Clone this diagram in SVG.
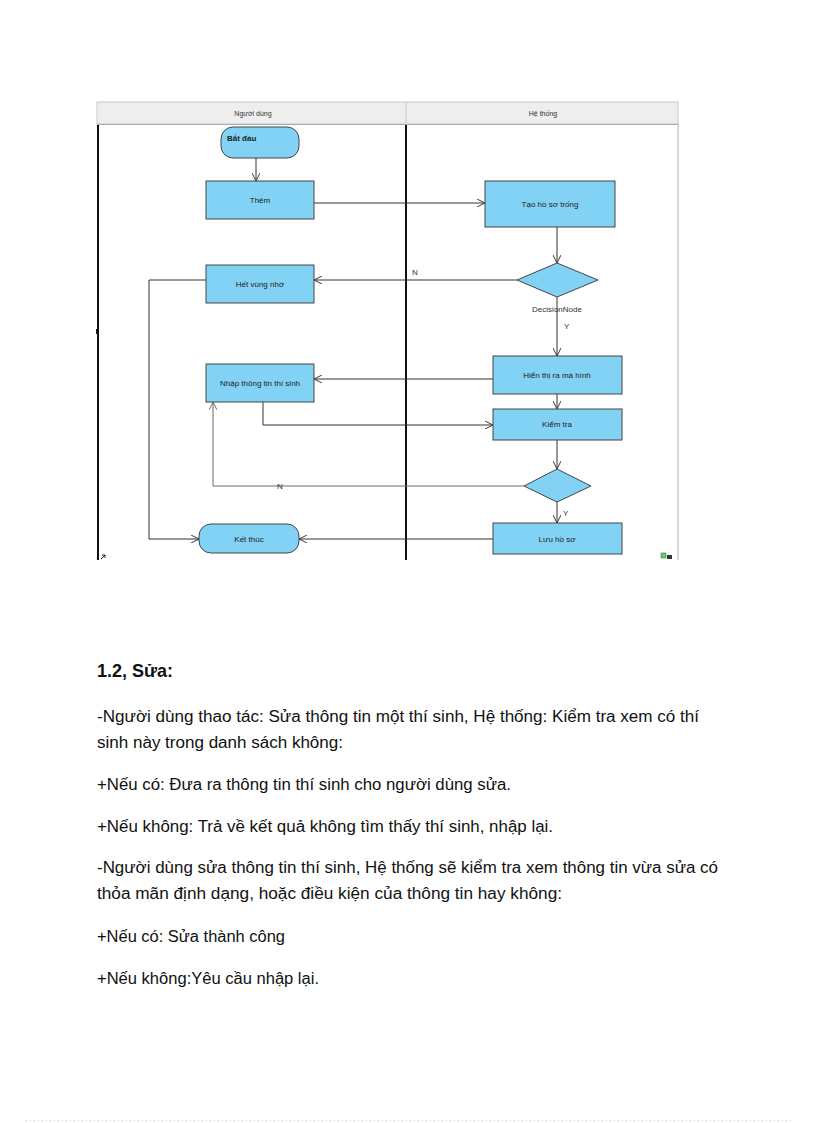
<svg xmlns="http://www.w3.org/2000/svg" width="816" height="1123" viewBox="0 0 816 1123">
<style>
.node{fill:#82d2f5;stroke:#444;stroke-width:1}
.lbl{font-family:"Liberation Sans",Arial,sans-serif;font-size:8px;fill:#222;text-anchor:middle;dominant-baseline:central}
.lbls{font-family:"Liberation Sans",Arial,sans-serif;font-size:8px;fill:#222;text-anchor:start;dominant-baseline:central;font-weight:bold}
.hdr{font-family:"Liberation Sans",Arial,sans-serif;font-size:7px;fill:#333;text-anchor:middle;dominant-baseline:central}
.conn{fill:none;stroke:#333;stroke-width:1}
.connN{fill:none;stroke:#6a6a6a;stroke-width:1}
.small{font-family:"Liberation Sans",Arial,sans-serif;font-size:8px;fill:#333}
.body{font-family:"Liberation Sans",Arial,sans-serif;font-size:16px;fill:#111}
.head{font-family:"Liberation Sans",Arial,sans-serif;font-size:19px;font-weight:bold;fill:#111}
</style>
<defs>
<marker id="arr" viewBox="0 0 10 10" refX="10" refY="5" markerWidth="8" markerHeight="8" markerUnits="userSpaceOnUse" orient="auto">
<path d="M0,0 L10,5 L0,10" fill="none" stroke="#333" stroke-width="1.2"/>
</marker>
<marker id="arrN" viewBox="0 0 10 10" refX="10" refY="5" markerWidth="8" markerHeight="8" markerUnits="userSpaceOnUse" orient="auto">
<path d="M0,0 L10,5 L0,10" fill="none" stroke="#6a6a6a" stroke-width="1.2"/>
</marker>
</defs>
<rect width="816" height="1123" fill="#fff"/>

<g id="swimlanes">
<rect x="97" y="102" width="581" height="22" fill="#eeeeee" stroke="#c8c8c8" stroke-width="1"/>
<line x1="406" y1="102" x2="406" y2="124" stroke="#c8c8c8" stroke-width="1"/>
<text class="hdr" x="253" y="113">Người dùng</text>
<text class="hdr" x="543" y="113">Hệ thống</text>
<line x1="98" y1="124" x2="98" y2="560" stroke="#111" stroke-width="2"/>
<line x1="406" y1="124" x2="406" y2="560" stroke="#111" stroke-width="2"/>
<line x1="678" y1="124" x2="678" y2="560" stroke="#b0b0b0" stroke-width="1"/>
<line x1="97" y1="124.5" x2="678" y2="124.5" stroke="#aaa" stroke-width="1"/>
<rect x="96" y="329" width="3" height="5" fill="#111"/>
<path d="M101,559 L105,555 M102,555 L105,555 L105,558" fill="none" stroke="#222" stroke-width="1"/>
<rect x="661" y="553" width="5" height="5" fill="#6c6" stroke="#363" stroke-width="0.5"/>
<rect x="667" y="555" width="5" height="4" fill="#333"/>
</g>

<g id="connectors">
<line class="conn" x1="256" y1="158" x2="256" y2="181" marker-end="url(#arr)"/>
<line class="conn" x1="314" y1="203" x2="485" y2="203" marker-end="url(#arr)"/>
<line class="conn" x1="557" y1="227" x2="557" y2="263" marker-end="url(#arr)"/>
<line class="conn" x1="517" y1="280" x2="314" y2="280" marker-end="url(#arr)"/>
<text class="small" x="412" y="275">N</text>
<line class="conn" x1="557" y1="297" x2="557" y2="356" marker-end="url(#arr)"/>
<text class="small" x="557" y="312" text-anchor="middle" fill="#444">DecisionNode</text>
<text class="small" x="564" y="329">Y</text>
<line class="conn" x1="493" y1="379" x2="314" y2="379" marker-end="url(#arr)"/>
<line class="conn" x1="557" y1="394" x2="557" y2="409" marker-end="url(#arr)"/>
<polyline class="conn" points="263,402 263,425 493,425" marker-end="url(#arr)"/>
<line class="conn" x1="557" y1="440" x2="557" y2="469" marker-end="url(#arr)"/>
<polyline class="connN" points="524,486 213,486 213,402" marker-end="url(#arrN)"/>
<text class="small" x="280" y="489" text-anchor="middle">N</text>
<line class="conn" x1="557" y1="502" x2="557" y2="523" marker-end="url(#arr)"/>
<text class="small" x="563" y="516">Y</text>
<line class="conn" x1="493" y1="539" x2="299" y2="539" marker-end="url(#arr)"/>
<polyline class="conn" points="206,280 149,280 149,539 199,539" marker-end="url(#arr)"/>
</g>

<g id="start">
<rect class="node" x="221" y="127" width="78" height="31" rx="12" ry="12"/>
<text class="lbls" x="227" y="138">Bắt đầu</text>
</g>
<g id="them">
<rect class="node" x="206" y="181" width="108" height="38"/>
<text class="lbl" x="260" y="200">Thêm</text>
</g>
<g id="het-vung-nho">
<rect class="node" x="206" y="265" width="108" height="38"/>
<text class="lbl" x="260" y="284">Hết vùng nhớ</text>
</g>
<g id="nhap-thong-tin">
<rect class="node" x="206" y="364" width="108" height="38"/>
<text class="lbl" x="260" y="383">Nhập thông tin thí sinh</text>
</g>
<g id="ket-thuc">
<rect class="node" x="199" y="524" width="100" height="29" rx="12" ry="12"/>
<text class="lbl" x="249" y="539">Kết thúc</text>
</g>
<g id="tao-ho-so">
<rect class="node" x="485" y="181" width="130" height="46"/>
<text class="lbl" x="550" y="204">Tạo hồ sơ trống</text>
</g>
<g id="decision1">
<polygon class="node" points="557,263 598,280 557,297 517,280"/>
</g>
<g id="hien-thi">
<rect class="node" x="493" y="356" width="129" height="38"/>
<text class="lbl" x="557" y="375">Hiển thị ra mà hình</text>
</g>
<g id="kiem-tra">
<rect class="node" x="493" y="409" width="129" height="31"/>
<text class="lbl" x="557" y="424">Kiểm tra</text>
</g>
<g id="decision2">
<polygon class="node" points="557,469 591,486 557,502 524,486"/>
</g>
<g id="luu-ho-so">
<rect class="node" x="493" y="523" width="129" height="31"/>
<text class="lbl" x="557" y="539">Lưu hồ sơ</text>
</g>

<g id="text">
<text class="head" x="97" y="677" textLength="76" lengthAdjust="spacingAndGlyphs">1.2, Sửa:</text>
<text class="body" x="97" y="722" textLength="602" lengthAdjust="spacingAndGlyphs">-Người dùng thao tác: Sửa thông tin một thí sinh, Hệ thống: Kiểm tra xem có thí</text>
<text class="body" x="97" y="748" textLength="246" lengthAdjust="spacingAndGlyphs">sinh này trong danh sách không:</text>
<text class="body" x="97" y="790" textLength="414" lengthAdjust="spacingAndGlyphs">+Nếu có: Đưa ra thông tin thí sinh cho người dùng sửa.</text>
<text class="body" x="97" y="832" textLength="456" lengthAdjust="spacingAndGlyphs">+Nếu không: Trả về kết quả không tìm thấy thí sinh, nhập lại.</text>
<text class="body" x="97" y="873" textLength="621" lengthAdjust="spacingAndGlyphs">-Người dùng sửa thông tin thí sinh, Hệ thống sẽ kiểm tra xem thông tin vừa sửa có</text>
<text class="body" x="97" y="899" textLength="465" lengthAdjust="spacingAndGlyphs">thỏa mãn định dạng, hoặc điều kiện của thông tin hay không:</text>
<text class="body" x="97" y="942" textLength="188" lengthAdjust="spacingAndGlyphs">+Nếu có: Sửa thành công</text>
<text class="body" x="97" y="984" textLength="222" lengthAdjust="spacingAndGlyphs">+Nếu không:Yêu cầu nhập lại.</text>
</g>

<line x1="26" y1="1120.5" x2="792" y2="1120.5" stroke="#c4c4e4" stroke-width="1" stroke-dasharray="1,3"/>
</svg>
